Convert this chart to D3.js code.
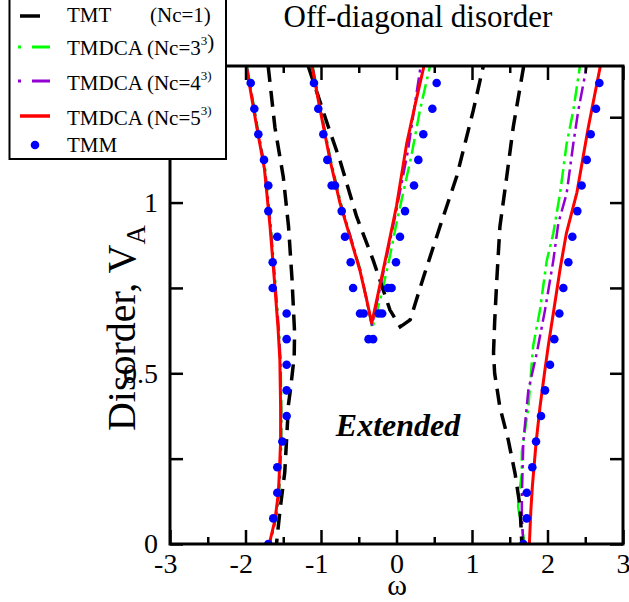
<!DOCTYPE html>
<html>
<head>
<meta charset="utf-8">
<script src="https://cdn.jsdelivr.net/npm/d3@7"></script>
<style>
  body { margin: 0; background: #fff; }
  text { font-family: "Liberation Serif", "Times New Roman", serif; fill: #000; }
</style>
</head>
<body>
<div id="container"></div>
<script>
/* CONSTANTS AND GLOBALS */
const width = 629,
  height = 602,
  margin = {top: 66, bottom: 58, left: 170, right: 6},
  radius = 4.3;

/* DATA  (omega, V_A) */
const xTicks = [-3, -2, -1, 0, 1, 2, 3];
const xMinor = [-2.5, -1.5, -0.5, 0.5, 1.5, 2.5];
const yTicks = [0, 0.25, 0.5, 0.75, 1, 1.25];
const yLabels = [0, 0.5, 1];

// TMT (Nc=1)
const tmtLeft = [[-1.70,1.40],[-1.61,1.22],[-1.50,1.076],[-1.43,0.93],[-1.385,0.78],[-1.35,0.62],[-1.355,0.55],[-1.40,0.46],[-1.43,0.41],[-1.48,0.21],[-1.54,0.105],[-1.59,0.0]];
const tmtMid = [[-1.17,1.40],[-0.90,1.22],[-0.75,1.124],[-0.53,0.96],[-0.307,0.83],[-0.086,0.685],[0.05,0.636],[0.18,0.656],[0.355,0.78],[0.576,0.93],[0.797,1.076],[1.017,1.27],[1.15,1.40]];
const tmtRight = [[1.685,1.40],[1.547,1.222],[1.46,1.076],[1.37,0.93],[1.33,0.78],[1.30,0.65],[1.285,0.56],[1.30,0.50],[1.37,0.40],[1.48,0.305],[1.57,0.207],[1.636,0.11],[1.66,0.0]];

// TMDCA (Nc=3^3)
const nc3Left = [[-1.98,1.40],[-1.84,1.22],[-1.74,1.10],[-1.665,0.93],[-1.61,0.78],[-1.56,0.635],[-1.535,0.54],[-1.525,0.40],[-1.525,0.30],[-1.54,0.217],[-1.555,0.148],[-1.60,0.07],[-1.68,0.0]];
const nc3Mid = [[-1.11,1.40],[-1.00,1.27],[-0.87,1.124],[-0.74,1.0],[-0.61,0.90],[-0.475,0.80],[-0.39,0.71],[-0.32,0.632],[-0.196,0.734],[-0.09,0.84],[0.0,0.94],[0.10,1.04],[0.20,1.14],[0.31,1.27],[0.444,1.40]];
const nc3Right = [[1.70,0.0],[1.64,0.07],[1.61,0.11],[1.626,0.148],[1.66,0.207],[1.66,0.27],[1.70,0.33],[1.746,0.40],[1.81,0.58],[1.90,0.685],[1.99,0.83],[2.077,0.91],[2.166,1.027],[2.254,1.173],[2.342,1.27],[2.43,1.40]];

// TMDCA (Nc=4^3)
const nc4Left = [[-1.985,1.40],[-1.845,1.22],[-1.745,1.10],[-1.67,0.93],[-1.615,0.78],[-1.565,0.635],[-1.54,0.54],[-1.53,0.40],[-1.53,0.30],[-1.545,0.217],[-1.56,0.148],[-1.605,0.07],[-1.68,0.0]];
const nc4Mid = [[-1.115,1.40],[-1.005,1.27],[-0.875,1.124],[-0.745,1.0],[-0.61,0.90],[-0.48,0.80],[-0.395,0.715],[-0.325,0.64],[-0.15,0.82],[0.0,0.98],[0.15,1.15],[0.32,1.40]];
const nc4Right = [[1.68,0.0],[1.66,0.08],[1.66,0.134],[1.68,0.30],[1.746,0.45],[1.857,0.558],[1.967,0.685],[2.077,0.83],[2.143,0.939],[2.254,1.027],[2.342,1.173],[2.408,1.27],[2.52,1.40]];

// TMDCA (Nc=5^3)
const nc5Left = [[-1.99,1.40],[-1.85,1.22],[-1.75,1.10],[-1.675,0.93],[-1.62,0.78],[-1.57,0.635],[-1.545,0.54],[-1.535,0.40],[-1.535,0.30],[-1.55,0.217],[-1.565,0.148],[-1.61,0.07],[-1.685,0.0]];
const nc5Mid = [[-1.12,1.40],[-1.01,1.27],[-0.88,1.124],[-0.75,1.0],[-0.616,0.90],[-0.483,0.80],[-0.40,0.72],[-0.328,0.646],[-0.15,0.83],[0.0,0.99],[0.135,1.173],[0.25,1.29],[0.364,1.40]];
const nc5Right = [[1.76,0.0],[1.78,0.10],[1.80,0.17],[1.85,0.30],[1.90,0.40],[1.96,0.50],[2.01,0.58],[2.08,0.68],[2.17,0.81],[2.25,0.91],[2.39,1.03],[2.54,1.22],[2.70,1.40]];

// TMM
const tmmLeft = [[-1.698,0.0],[-1.632,0.075],[-1.579,0.15],[-1.579,0.225],[-1.512,0.30],[-1.455,0.375],[-1.455,0.45],[-1.455,0.525],[-1.455,0.60],[-1.455,0.675],[-1.640,0.75],[-1.640,0.825],[-1.579,0.90],[-1.698,0.975],[-1.698,1.05],[-1.755,1.125],[-1.830,1.20],[-1.883,1.275],[-1.931,1.35]];
const tmmMid = [[-1.093,1.35],[-1.036,1.275],[-0.969,1.20],[-0.916,1.125],[-0.859,1.05],[-0.815,1.05],[-0.726,0.975],[-0.682,0.90],[-0.607,0.825],[-0.575,0.75],[-0.483,0.675],[-0.435,0.675],[-0.37,0.60],[-0.31,0.60],[-0.235,0.675],[-0.19,0.675],[-0.115,0.75],[-0.065,0.75],[-0.007,0.825],[0.046,0.90],[0.113,0.975],[0.232,1.05],[0.289,1.125],[0.355,1.20],[0.475,1.275],[0.532,1.35]];
const tmmRight = [[1.680,0.0],[1.725,0.075],[1.725,0.15],[1.799,0.225],[1.848,0.30],[1.914,0.375],[1.967,0.45],[2.033,0.525],[2.090,0.60],[2.157,0.675],[2.210,0.75],[2.276,0.825],[2.329,0.90],[2.395,0.975],[2.452,1.05],[2.519,1.125],[2.572,1.20],[2.642,1.275],[2.687,1.35]];

const series = [
  {name: "nc3", color: "#00ff00", width: 2.5, dash: "15,5,3,5", parts: [nc3Left, nc3Mid, nc3Right]},
  {name: "nc4", color: "#9400d3", width: 2.5, dash: "15,5,3,5", parts: [nc4Left, nc4Mid, nc4Right]},
  {name: "tmt", color: "#000000", width: 3.5, dash: "16,9", parts: [tmtLeft, tmtMid, tmtRight]},
  {name: "nc5", color: "#ff0000", width: 3, dash: null, parts: [nc5Left, nc5Mid, nc5Right]}
];

/* SCALES */
const xScale = d3.scaleLinear()
  .domain([-3, 3])
  .range([margin.left, width - margin.right]);

const yScale = d3.scaleLinear()
  .domain([0, 1.4])
  .range([height - margin.bottom, margin.top]);

const line = d3.line()
  .x(d => xScale(d[0]))
  .y(d => yScale(d[1]));

/* HTML ELEMENTS */
const svg = d3.select("#container")
  .append("svg")
  .attr("width", width)
  .attr("height", height)
  .style("font-family", "'Liberation Serif', 'Times New Roman', serif");

svg.append("clipPath")
  .attr("id", "plot-clip")
  .append("rect")
  .attr("x", margin.left)
  .attr("y", margin.top)
  .attr("width", width - margin.left - margin.right)
  .attr("height", height - margin.top - margin.bottom);

const plot = svg.append("g").attr("clip-path", "url(#plot-clip)");

series.forEach(s => {
  plot.selectAll(".line-" + s.name)
    .data(s.parts)
    .join("path")
    .attr("class", "line-" + s.name)
    .attr("d", line)
    .attr("fill", "none")
    .attr("stroke", s.color)
    .attr("stroke-width", s.width)
    .attr("stroke-dasharray", s.dash);
});

plot.selectAll(".dot")
  .data(tmmLeft.concat(tmmMid, tmmRight))
  .join("circle")
  .attr("class", "dot")
  .attr("cx", d => xScale(d[0]))
  .attr("cy", d => yScale(d[1]))
  .attr("r", radius)
  .attr("fill", "#0000ff");

/* AXES */
const bottom = height - margin.bottom,
  right = width - margin.right;

function styleAxis(g) {
  g.attr("font-family", null).attr("font-size", null);
  g.select(".domain").remove();
  g.selectAll(".tick line").attr("stroke", "#000").attr("stroke-width", 2.5);
  g.selectAll(".tick text")
    .style("font-family", "'Liberation Serif', 'Times New Roman', serif")
    .style("font-size", "28px");
}

// bottom (plain hyphen for negatives, digit centred on the tick)
svg.append("g")
  .attr("transform", `translate(0, ${bottom})`)
  .call(d3.axisBottom(xScale).tickValues(xTicks).tickSize(-14).tickPadding(9)
    .tickFormat(d => d < 0 ? "-" + Math.abs(d) : String(d)))
  .call(styleAxis)
  .call(g => g.selectAll(".tick text").attr("dx", d => d < 0 ? "-0.17em" : 0));
svg.append("g")
  .attr("transform", `translate(0, ${bottom})`)
  .call(d3.axisBottom(xScale).tickValues(xMinor).tickSize(-7).tickFormat(""))
  .call(styleAxis);

// top
svg.append("g")
  .attr("transform", `translate(0, ${margin.top})`)
  .call(d3.axisTop(xScale).tickValues(xTicks).tickSize(-14).tickFormat(""))
  .call(styleAxis);
svg.append("g")
  .attr("transform", `translate(0, ${margin.top})`)
  .call(d3.axisTop(xScale).tickValues(xMinor).tickSize(-7).tickFormat(""))
  .call(styleAxis);

// left
svg.append("g")
  .attr("transform", `translate(${margin.left}, 0)`)
  .call(d3.axisLeft(yScale).tickValues(yTicks).tickSize(-13).tickPadding(12)
    .tickFormat(d => yLabels.includes(d) ? d3.format("")(d) : ""))
  .call(styleAxis);

// right
svg.append("g")
  .attr("transform", `translate(${right}, 0)`)
  .call(d3.axisRight(yScale).tickValues(yTicks).tickSize(-13).tickFormat(""))
  .call(styleAxis);

// frame
svg.append("rect")
  .attr("x", margin.left)
  .attr("y", margin.top)
  .attr("width", right - margin.left)
  .attr("height", bottom - margin.top)
  .attr("fill", "none")
  .attr("stroke", "#000")
  .attr("stroke-width", 3);

/* LABELS */
svg.append("text")
  .attr("x", 418)
  .attr("y", 27)
  .attr("text-anchor", "middle")
  .attr("font-size", 31)
  .text("Off-diagonal disorder");

svg.append("text")
  .attr("x", 397)
  .attr("y", 595)
  .attr("text-anchor", "middle")
  .attr("font-size", 30)
  .text("ω");

const ylab = svg.append("text")
  .attr("transform", "translate(135, 328) rotate(-90)")
  .attr("text-anchor", "middle")
  .attr("font-size", 40);
ylab.append("tspan").text("Disorder, V");
ylab.append("tspan").attr("font-size", 27).attr("dy", 10).text("A");

svg.append("text")
  .attr("x", 398)
  .attr("y", 436)
  .attr("text-anchor", "middle")
  .attr("font-size", 32)
  .attr("font-weight", "bold")
  .attr("font-style", "italic")
  .text("Extended");

/* LEGEND */
const legend = svg.append("g");
legend.append("rect")
  .attr("x", 9.5)
  .attr("y", -5)
  .attr("width", 216.5)
  .attr("height", 164)
  .attr("fill", "#fff")
  .attr("stroke", "#000")
  .attr("stroke-width", 2);

const legendItems = [
  {y: 16, color: "#000000", x1: 20, x2: 40, width: 3.5, dash: null},
  {y: 47, color: "#00ff00", x1: 18, x2: 50, width: 3, dash: "3,11,18"},
  {y: 81, color: "#9400d3", x1: 18, x2: 50, width: 3, dash: "3,11,18"},
  {y: 116, color: "#ff0000", x1: 20, x2: 50, width: 3.5, dash: null}
];
legend.selectAll(".sample")
  .data(legendItems)
  .join("line")
  .attr("class", "sample")
  .attr("x1", d => d.x1).attr("x2", d => d.x2)
  .attr("y1", d => d.y).attr("y2", d => d.y)
  .attr("stroke", d => d.color)
  .attr("stroke-width", d => d.width)
  .attr("stroke-dasharray", d => d.dash);
legend.append("circle")
  .attr("cx", 35).attr("cy", 145).attr("r", radius).attr("fill", "#0000ff");

const fs = 21;
legend.append("text").attr("x", 67).attr("y", 22).attr("font-size", fs).text("TMT");
legend.append("text").attr("x", 150).attr("y", 22).attr("font-size", fs).text("(Nc=1)");

const t3 = legend.append("text").attr("x", 67).attr("y", 55).attr("font-size", fs);
t3.append("tspan").text("TMDCA (Nc=3");
t3.append("tspan").attr("font-size", 13).attr("dy", -10).text("3");
t3.append("tspan").attr("dy", 4).text(")");

const t4 = legend.append("text").attr("x", 67).attr("y", 90).attr("font-size", fs);
t4.append("tspan").text("TMDCA (Nc=4");
t4.append("tspan").attr("font-size", 13).attr("dy", -10).text("3)");

const t5 = legend.append("text").attr("x", 67).attr("y", 125).attr("font-size", fs);
t5.append("tspan").text("TMDCA (Nc=5");
t5.append("tspan").attr("font-size", 13).attr("dy", -10).text("3)");

legend.append("text").attr("x", 67).attr("y", 152).attr("font-size", fs).text("TMM");
</script>
</body>
</html>
